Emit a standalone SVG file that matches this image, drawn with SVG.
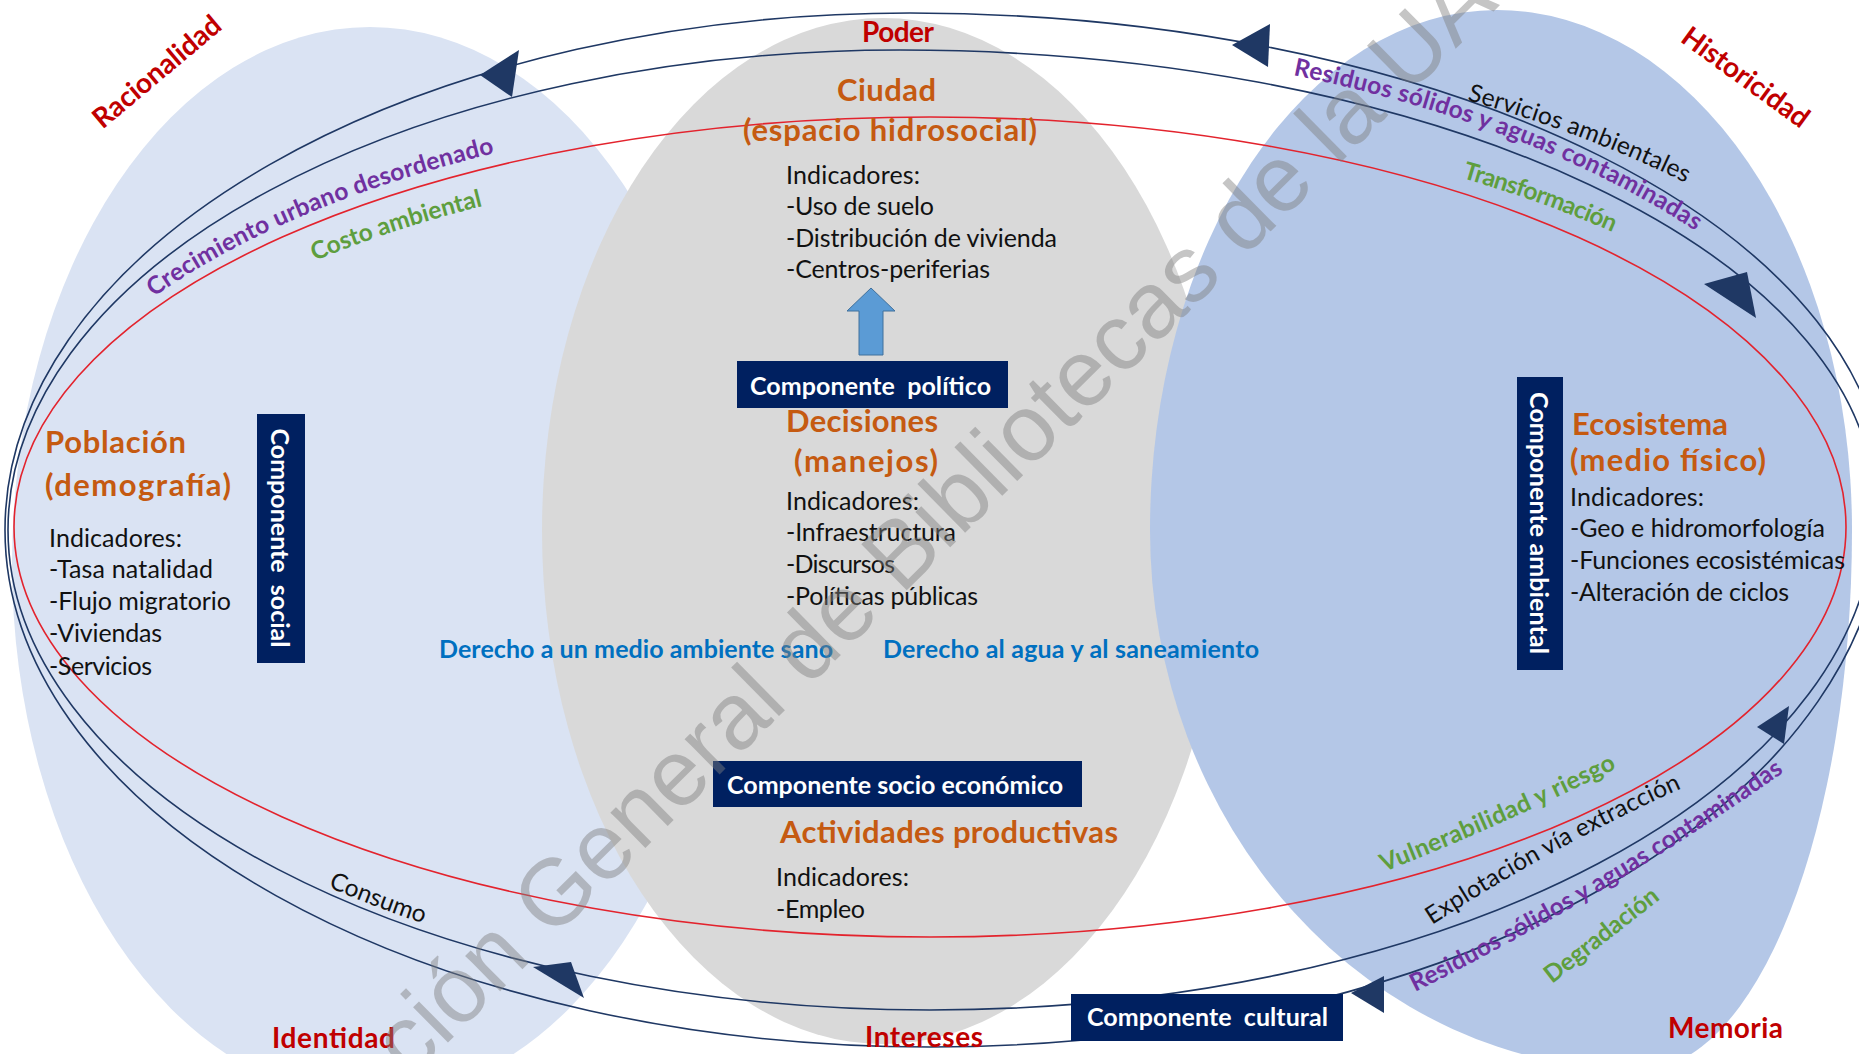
<svg xmlns="http://www.w3.org/2000/svg" width="1859" height="1054" viewBox="0 0 1859 1054">
<defs>
<style>
.t{font-family:Lato,'Liberation Sans',sans-serif}
.hd{font-weight:700;fill:#c55a11;font-size:31px}
.tx{font-weight:400;fill:#111111;font-size:25px}
.rd{font-weight:700;fill:#c00000;font-size:28px}
.pu{font-weight:700;fill:#7030a0;font-size:24.5px}
.gr{font-weight:700;fill:#5e9e3e;font-size:24.5px}
.bl{font-weight:700;fill:#0070c0;font-size:25px}
.ck{font-weight:400;fill:#111111;font-size:24.5px}
.bt{font-weight:700;fill:#ffffff;font-size:25px}
.box{fill:#002060}
.ln{fill:none;stroke:#1f3864;stroke-width:1.6}
.lr{fill:none;stroke:#e3232d;stroke-width:1.6}
.ah{fill:#1f3864}
.wm{font-family:'Liberation Sans',Arial,sans-serif;font-size:94px;fill:#7f7f7f;opacity:0.45}
</style>
<path id="pCrec" d="M154,297 A924,424 0 0 1 930,103"/>
<path id="pCosto" d="M315,261 A876,373 0 0 1 930,154"/>
<path id="pServ" d="M1467,100 A1049,501 0 0 1 1979,530"/>
<path id="pResT" d="M1293,75 A965,491 0 0 1 1895,530"/>
<path id="pTrans" d="M1462,178 A960,419 0 0 1 1890,527"/>
<path id="pCons" d="M328,887 A925,470 0 0 0 930,1000"/>
<path id="pVul" d="M1384,872 A2900,2900 0 0 0 1623,765"/>
<path id="pExp" d="M1432,925 A1846,1846 0 0 1 1698,781"/>
<path id="pResB" d="M1415,992 A2900,2900 0 0 0 1801,760"/>
<path id="pDeg" d="M1552,984 L1680,884"/>
</defs>
<rect width="1859" height="1054" fill="#ffffff"/>
<g id="fondos">
<ellipse id="zona-social" cx="370" cy="563" rx="358" ry="536" fill="#dae3f3"/>
<ellipse id="zona-central" cx="883" cy="531" rx="341" ry="513" fill="#d9d9d9"/>
<path id="zona-ambiental" d="M1497,10 A355,520 0 0 1 1852,530 A212,540 0 0 1 1640,1070 A490,540 0 0 1 1150,530 A347,520 0 0 1 1497,10 Z" fill="#b4c7e7"/>
</g>
<g id="connectors">
<path class="ln" d="M910,13 A975,487 0 0 1 1885,500 A955,547 0 0 1 930,1047 A925,517 0 0 1 5,530 A905,517 0 0 1 910,13 Z"/>
<path class="ln" d="M900,50 A975,460 0 0 1 1875,510 A945,500 0 0 1 930,1010 A922,480 0 0 1 8,530 A892,480 0 0 1 900,50 Z"/>
<ellipse class="lr" cx="930" cy="527" rx="916" ry="410"/>
<polygon class="ah" points="480,75 519,50 512,97"/>
<polygon class="ah" points="1232,45 1270,24 1268,67"/>
<polygon class="ah" points="1704,284 1747,272 1756,318"/>
<polygon class="ah" points="1789,706 1757,727 1784,744"/>
<polygon class="ah" points="1351,993 1384,976 1384,1013"/>
<polygon class="ah" points="533,967 571,962 584,998"/>
<polygon points="871,288 895,311 883,311 883,355 859,355 859,311 847,311" fill="#5b9bd5" stroke="#41719c" stroke-width="1"/>
</g>
<g id="etiquetas-flujos">
<text class="t pu"><textPath href="#pCrec" textLength="372">Crecimiento urbano desordenado</textPath></text>
<text class="t gr"><textPath href="#pCosto" textLength="177">Costo ambiental</textPath></text>
<text class="t ck"><textPath href="#pServ" textLength="234">Servicios ambientales</textPath></text>
<text class="t pu"><textPath href="#pResT" textLength="434">Residuos sólidos y aguas contaminadas</textPath></text>
<text class="t gr"><textPath href="#pTrans" textLength="160">Transformación</textPath></text>
<text class="t ck"><textPath href="#pCons" textLength="102">Consumo</textPath></text>
<text class="t gr"><textPath href="#pVul" textLength="255">Vulnerabilidad y riesgo</textPath></text>
<text class="t ck"><textPath href="#pExp" textLength="285">Explotación vía extracción</textPath></text>
<text class="t pu"><textPath href="#pResB" textLength="430">Residuos sólidos y aguas contaminadas</textPath></text>
<text class="t gr"><textPath href="#pDeg" textLength="138">Degradación</textPath></text>
</g>
<g id="dimensiones">
<text class="t rd" x="862" y="42" textLength="72">Poder</text>
<text class="t rd" x="865" y="1047" textLength="118">Intereses</text>
<text class="t rd" x="272" y="1048" textLength="123">Identidad</text>
<text class="t rd" x="1668" y="1038" textLength="115">Memoria</text>
<text class="t rd" x="163" y="79" text-anchor="middle" textLength="158" transform="rotate(-40 163 79)">Racionalidad</text>
<text class="t rd" x="1740" y="85" text-anchor="middle" textLength="150" transform="rotate(36 1740 85)">Historicidad</text>
</g>
<g id="ciudad">
<text class="t hd" x="837" y="101" textLength="99">Ciudad</text>
<text class="t hd" x="743" y="141" textLength="294">(espacio hidrosocial)</text>
<text class="t tx" x="786" y="184" textLength="134">Indicadores:</text>
<text class="t tx" x="786" y="215" textLength="148">-Uso de suelo</text>
<text class="t tx" x="786" y="247" textLength="271">-Distribución de vivienda</text>
<text class="t tx" x="786" y="278" textLength="204">-Centros-periferias</text>
</g>
<g id="componente-politico">
<rect class="box" x="737" y="361" width="271" height="47"/>
<text class="t bt" x="750" y="395" textLength="241" xml:space="preserve">Componente  político</text>
</g>
<g id="decisiones">
<text class="t hd" x="786" y="432" textLength="152">Decisiones</text>
<text class="t hd" x="794" y="472" textLength="144">(manejos)</text>
<text class="t tx" x="786" y="510" textLength="133">Indicadores:</text>
<text class="t tx" x="786" y="541" textLength="170">-Infraestructura</text>
<text class="t tx" x="786" y="573" textLength="109">-Discursos</text>
<text class="t tx" x="786" y="605" textLength="192">-Políticas públicas</text>
</g>
<g id="derechos">
<text class="t bl" x="439" y="658" textLength="394">Derecho a un medio ambiente sano</text>
<text class="t bl" x="883" y="658" textLength="376">Derecho al agua y al saneamiento</text>
</g>
<g id="componente-socioeconomico">
<rect class="box" x="713" y="761" width="369" height="46"/>
<text class="t bt" x="727" y="794" textLength="336">Componente socio económico</text>
</g>
<g id="actividades">
<text class="t hd" x="780" y="843" textLength="338">Actividades productivas</text>
<text class="t tx" x="776" y="886" textLength="133">Indicadores:</text>
<text class="t tx" x="776" y="918" textLength="89">-Empleo</text>
</g>
<g id="componente-cultural">
<rect class="box" x="1071" y="994" width="272" height="47"/>
<text class="t bt" x="1087" y="1026" textLength="241" xml:space="preserve">Componente  cultural</text>
</g>
<g id="poblacion">
<text class="t hd" x="45" y="453" textLength="141">Población</text>
<text class="t hd" x="45" y="496" textLength="186">(demografía)</text>
<text class="t tx" x="49" y="547" textLength="133">Indicadores:</text>
<text class="t tx" x="49" y="578" textLength="164">-Tasa natalidad</text>
<text class="t tx" x="49" y="610" textLength="182">-Flujo migratorio</text>
<text class="t tx" x="49" y="642" textLength="113">-Viviendas</text>
<text class="t tx" x="49" y="675" textLength="103">-Servicios</text>
</g>
<g id="componente-social">
<rect class="box" x="257" y="414" width="48" height="249"/>
<text class="t bt" x="281" y="538" text-anchor="middle" dominant-baseline="central" textLength="219" transform="rotate(90 281 538)" xml:space="preserve">Componente  social</text>
</g>
<g id="ecosistema">
<text class="t hd" x="1572" y="435" textLength="156">Ecosistema</text>
<text class="t hd" x="1570" y="471" textLength="196">(medio físico)</text>
<text class="t tx" x="1570" y="506" textLength="134">Indicadores:</text>
<text class="t tx" x="1570" y="537" textLength="255">-Geo e hidromorfología</text>
<text class="t tx" x="1570" y="569" textLength="275">-Funciones ecosistémicas</text>
<text class="t tx" x="1570" y="601" textLength="219">-Alteración de ciclos</text>
</g>
<g id="componente-ambiental">
<rect class="box" x="1517" y="377" width="46" height="293"/>
<text class="t bt" x="1540" y="523" text-anchor="middle" dominant-baseline="central" textLength="262" transform="rotate(90 1540 523)">Componente ambiental</text>
</g>
<text class="wm" transform="translate(410,1080) rotate(-44.6)">ción General de Bibliotecas de la UA</text>
</svg>
